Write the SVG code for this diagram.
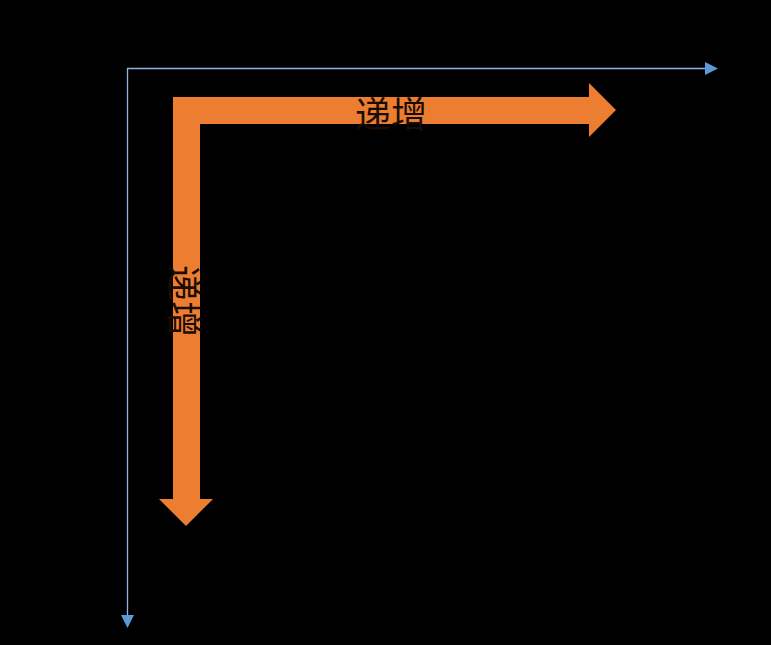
<svg xmlns="http://www.w3.org/2000/svg" width="771" height="645" viewBox="0 0 771 645">
<style>
.axis{stroke:#8FB4E3;stroke-width:1.3;fill:none}
.head{fill:#5B9BD5}
.lbl{font-family:"Noto Sans CJK SC","Noto Sans CJK JP",sans-serif;font-size:36px;fill:#1a0c02;text-anchor:middle;dominant-baseline:central}
</style>
<rect width="771" height="645" fill="#000"/>
<g id="connectors">
<line class="axis" x1="127" y1="68.5" x2="706" y2="68.5"/>
<polygon class="head" points="705,62 718,68.5 705,75"/>
<line class="axis" x1="127.5" y1="68" x2="127.5" y2="616"/>
<polygon class="head" points="121,615 134,615 127.5,628"/>
</g>
<g id="bent-arrow">
<polygon fill="#ED7D31" points="173,97 589,97 589,83 616,110 589,137 589,124 200,124 200,499 213,499 186,526 159,499 173,499"/>
</g>
<g id="label-horizontal">
<text class="lbl" x="391" y="112">递增</text>
</g>
<g id="label-vertical">
<text class="lbl" transform="translate(186,301) rotate(90)" x="0" y="0">递增</text>
</g>
</svg>
